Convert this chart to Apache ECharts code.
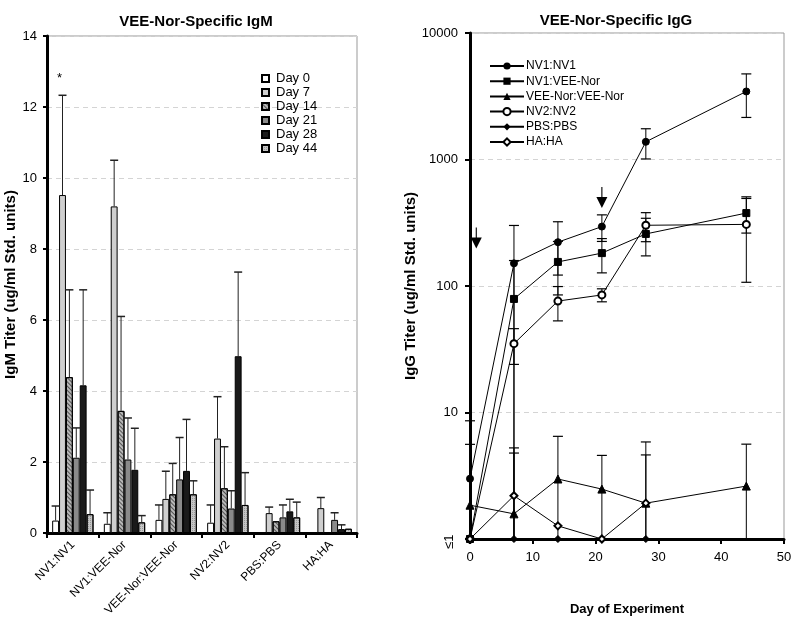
<!DOCTYPE html>
<html>
<head>
  <meta charset="UTF-8">
  <title>VEE-Nor-Specific IgM / IgG</title>
  <script src="https://cdn.jsdelivr.net/npm/echarts@6/dist/echarts.min.js"></script>
  <style>
    html, body { margin: 0; padding: 0; background: #fff; }
    #main { width: 800px; height: 629px; }
  </style>
</head>
<body>
<div id="main"></div>
<script>
  var FONT = 'Liberation Sans, Arial, sans-serif';

  // groups (x categories of the IgM chart, series of the IgG chart)
  var groups = ['NV1:NV1', 'NV1:VEE-Nor', 'VEE-Nor:VEE-Nor', 'NV2:NV2', 'PBS:PBS', 'HA:HA'];
  var dayNames = ['Day 0', 'Day 7', 'Day 14', 'Day 21', 'Day 28', 'Day 44'];

  // IgM means per day (one value per group), and the top of each error bar
  var igmDay0  = [0.35, 0.26, 0.37, 0.29, null, null];
  var igmDay7  = [9.52, 9.2, 0.96, 2.66, 0.56, 0.7];
  var igmDay14 = [4.39, 3.44, 1.09, 1.26, 0.33, null];
  var igmDay21 = [2.12, 2.07, 1.51, 0.69, 0.44, 0.37];
  var igmDay28 = [4.16, 1.78, 1.75, 4.98, 0.61, 0.11];
  var igmDay44 = [0.53, 0.3, 1.09, 0.79, 0.44, 0.12];

  var errDay0  = [0.76, 0.57, 0.79, 0.79, null, null];
  var errDay7  = [12.33, 10.5, 1.74, 3.84, 0.73, 1.0];
  var errDay14 = [6.85, 6.1, 1.96, 2.43, null, null];
  var errDay21 = [2.96, 3.24, 2.69, 1.19, 0.79, 0.57];
  var errDay28 = [6.85, 2.95, 3.2, 7.35, 0.95, 0.23];
  var errDay44 = [1.21, 0.49, 1.47, 1.7, 0.87, null];

  // IgG titers by day of experiment, with SD
  var days = [0, 7, 14, 21, 28, 44];
  var iggNV1NV1   = [3, 151, 222, 295, 1380, 3450];
  var sdNV1NV1    = [5.6, 150, 100, 70, 370, 1300];
  var iggNV1VEE   = [1, 79, 155, 182, 258, 377];
  var sdNV1VEE    = [null, 80, 70, 55, 85, 115];
  var iggVEEVEE   = [1.85, 1.58, 2.98, 2.48, 1.92, 2.62];
  var sdVEEVEE    = [3.75, 3.2, 3.5, 2.1, 3.93, 3.0];
  var iggNV2NV2   = [1, 35, 76, 85, 302, 307];
  var sdNV2NV2    = [null, 11, 23, 10, 78, 200];
  var iggPBS      = [1, 1, 1, 1, 1, null];
  var sdPBS       = [null, null, null, null, null, null];
  var iggHA       = [1, 2.2, 1.27, 1, 1.92, null];
  var sdHA        = [null, 3.05, null, null, 2.7, null];

  // boost arrows (day, titer)
  var arrows = [[1, 240], [21, 500]];

  var igmVals = [igmDay0, igmDay7, igmDay14, igmDay21, igmDay28, igmDay44];
  var igmErrs = [errDay0, errDay7, errDay14, errDay21, errDay28, errDay44];
  var iggVals = [iggNV1NV1, iggNV1VEE, iggVEEVEE, iggNV2NV2, iggPBS, iggHA];
  var iggSds  = [sdNV1NV1, sdNV1VEE, sdVEEVEE, sdNV2NV2, sdPBS, sdHA];

  var barColors = ['#ffffff', '#cfcfcf', '#b8b8b8', '#8a8a8a', '#1a1a1a', '#c6c6c6'];
  var decals = [null, null,
    { symbol: 'rect', symbolSize: 1, color: 'rgba(40,40,40,0.7)', dashArrayX: [1, 0], dashArrayY: [1, 2], rotation: Math.PI / 4 },
    null, null,
    { symbol: 'rect', symbolSize: 1, color: 'rgba(110,110,110,0.5)', dashArrayX: [1, 1], dashArrayY: [1, 1], rotation: 0 }
  ];
  var markers = ['circle', 'rect', 'triangle', 'emptyCircle', 'diamond', 'emptyDiamond'];
  var markerSize = [7, 7, 8, 7, 7, 7];

  var series = [];

  // bars
  igmVals.forEach(function (vals, d) {
    var it = { color: barColors[d], borderColor: '#000', borderWidth: 1 };
    if (decals[d]) it.decal = decals[d];
    series.push({
      name: dayNames[d], type: 'bar', xAxisIndex: 0, yAxisIndex: 0,
      barGap: 0, barCategoryGap: '20%',
      itemStyle: it,
      data: vals.map(function (v) { return v == null ? '-' : v; })
    });
  });

  // bar error whiskers
  var barErrData = [];
  igmVals.forEach(function (vals, d) {
    vals.forEach(function (v, g) {
      if (v != null && igmErrs[d][g] != null) barErrData.push([g, v, igmErrs[d][g], d]);
    });
  });
  series.push({
    type: 'custom', xAxisIndex: 0, yAxisIndex: 0, z: 5,
    encode: { x: 0, y: 2 },
    data: barErrData,
    renderItem: function (params, api) {
      var g = api.value(0), v = api.value(1), t = api.value(2), d = api.value(3);
      var barW = api.size([1, 0])[0] * 0.8 / 6;
      var p = api.coord([g, v]);
      var x = p[0] + (d - 2.5) * barW;
      var yt = api.coord([g, t])[1];
      return {
        type: 'group', children: [
          { type: 'line', shape: { x1: x, y1: p[1], x2: x, y2: yt }, style: { stroke: '#222', lineWidth: 1 } },
          { type: 'line', shape: { x1: x - 4, y1: yt, x2: x + 4, y2: yt }, style: { stroke: '#222', lineWidth: 1.5 } }
        ]
      };
    }
  });

  // IgG lines
  iggVals.forEach(function (vals, s) {
    var pts = [];
    vals.forEach(function (v, i) { if (v != null) pts.push([days[i], v]); });
    var ser = {
      name: groups[s], type: 'line', xAxisIndex: 1, yAxisIndex: 1,
      symbol: markers[s], symbolSize: markerSize[s], clip: false, z: 6,
      lineStyle: { color: '#000', width: 1 },
      itemStyle: { color: '#000', borderColor: '#000' },
      data: pts
    };
    if (s === 0) {
      ser.markPoint = {
        symbol: 'path://M4.5,0 L5.5,0 L5.5,10 L10,10 L5,21 L0,10 L4.5,10 Z',
        symbolSize: [11, 21],
        itemStyle: { color: '#000' },
        label: { show: false },
        data: arrows.map(function (a) { return { coord: a }; })
      };
    }
    series.push(ser);
  });

  // IgG error whiskers
  var lineErrData = [];
  iggVals.forEach(function (vals, s) {
    vals.forEach(function (v, i) {
      var sd = iggSds[s][i];
      if (v != null && sd != null) lineErrData.push([days[i], v, v + sd, v - sd]);
    });
  });
  series.push({
    type: 'custom', xAxisIndex: 1, yAxisIndex: 1, z: 4, clip: false,
    encode: { x: 0, y: 2 },
    data: lineErrData,
    renderItem: function (params, api) {
      var day = api.value(0), v = api.value(1), hi = api.value(2), lo = api.value(3);
      var x = api.coord([day, v])[0];
      var yh = api.coord([day, hi])[1];
      var yl = api.coord([day, Math.max(lo, 1)])[1];
      var kids = [
        { type: 'line', shape: { x1: x, y1: yh, x2: x, y2: yl }, style: { stroke: '#000', lineWidth: 1 } },
        { type: 'line', shape: { x1: x - 5, y1: yh, x2: x + 5, y2: yh }, style: { stroke: '#000', lineWidth: 1.2 } }
      ];
      if (lo > 1) kids.push({ type: 'line', shape: { x1: x - 5, y1: yl, x2: x + 5, y2: yl }, style: { stroke: '#000', lineWidth: 1.2 } });
      return { type: 'group', children: kids };
    }
  });

  var axisTxt = { color: '#000', fontFamily: FONT, fontSize: 13 };
  var nameTxt = { color: '#000', fontFamily: FONT, fontSize: 15, fontWeight: 'bold' };

  var chart = echarts.init(document.getElementById('main'));
  chart.setOption({
    backgroundColor: '#fff',
    animation: false,
    textStyle: { fontFamily: FONT },
    title: [
      { text: 'VEE-Nor-Specific IgM', left: 191, top: 9, textAlign: 'center',
        textStyle: { fontFamily: FONT, fontSize: 15, fontWeight: 'bold', color: '#000' } },
      { text: 'VEE-Nor-Specific IgG', left: 611, top: 8, textAlign: 'center',
        textStyle: { fontFamily: FONT, fontSize: 15, fontWeight: 'bold', color: '#000' } }
    ],
    legend: [
      { data: dayNames, orient: 'vertical', left: 256, top: 67, icon: 'rect',
        itemWidth: 7, itemHeight: 7, itemGap: 1, selectedMode: false,
        textStyle: { fontFamily: FONT, fontSize: 13, color: '#000', padding: [0, 0, 0, 2] } },
      { data: groups, orient: 'vertical', left: 484, top: 55,
        itemWidth: 34, itemHeight: 9, itemGap: 3.2, selectedMode: false,
        textStyle: { fontFamily: FONT, fontSize: 12, color: '#000', padding: [0, 0, 0, -3] } }
    ],
    grid: [
      { left: 47, top: 36, width: 310, height: 497, show: true, borderColor: '#999', borderWidth: 1 },
      { left: 470, top: 33, width: 314, height: 506, show: true, borderColor: '#999', borderWidth: 1 }
    ],
    xAxis: [
      { type: 'category', gridIndex: 0, data: groups,
        axisLine: { lineStyle: { color: '#000', width: 3 } },
        axisTick: { show: true, length: 5, lineStyle: { color: '#000', width: 2 } },
        axisLabel: { rotate: 45, interval: 0, margin: 10, fontSize: 12, color: '#000', fontFamily: FONT },
        splitLine: { show: false } },
      { type: 'value', gridIndex: 1, min: 0, max: 50, interval: 10,
        name: 'Day of Experiment', nameLocation: 'middle', nameGap: 64, nameTextStyle: { color: '#000', fontFamily: FONT, fontSize: 13, fontWeight: 'bold' },
        axisLine: { lineStyle: { color: '#000', width: 3 } },
        axisTick: { show: true, length: 5, lineStyle: { color: '#000', width: 2 } },
        axisLabel: Object.assign({ margin: 12 }, axisTxt),
        splitLine: { show: false } }
    ],
    yAxis: [
      { type: 'value', gridIndex: 0, min: 0, max: 14, interval: 2,
        name: 'IgM Titer (ug/ml Std. units)', nameLocation: 'middle', nameGap: 25, nameTextStyle: nameTxt,
        axisLine: { show: true, lineStyle: { color: '#000', width: 3 } },
        axisTick: { show: true, length: 4, lineStyle: { color: '#000', width: 2 } },
        axisLabel: Object.assign({ margin: 10 }, axisTxt),
        splitLine: { show: true, lineStyle: { color: '#d4d4d4', type: [5, 4], width: 1 } } },
      { type: 'log', gridIndex: 1, min: 1, max: 10000, logBase: 10,
        name: 'IgG Titer (ug/ml Std. units)', nameLocation: 'middle', nameGap: 46, nameTextStyle: nameTxt,
        axisLine: { show: true, lineStyle: { color: '#000', width: 3 } },
        axisTick: { show: true, length: 5, lineStyle: { color: '#000', width: 2 } },
        axisLabel: Object.assign({ margin: 12, formatter: function (v) { return v === 1 ? '' : v; } }, axisTxt),
        splitLine: { show: true, lineStyle: { color: '#d4d4d4', type: [5, 4], width: 1 } } }
    ],
    graphic: [
      { type: 'text', left: 57, top: 72, style: { text: '*', font: '13px ' + FONT, fill: '#000' } },
      { type: 'text', x: 443, y: 549, rotation: Math.PI / 2,
        style: { text: '≤1', font: '13px ' + FONT, fill: '#000' } }
    ],
    series: series
  });
</script>
</body>
</html>
